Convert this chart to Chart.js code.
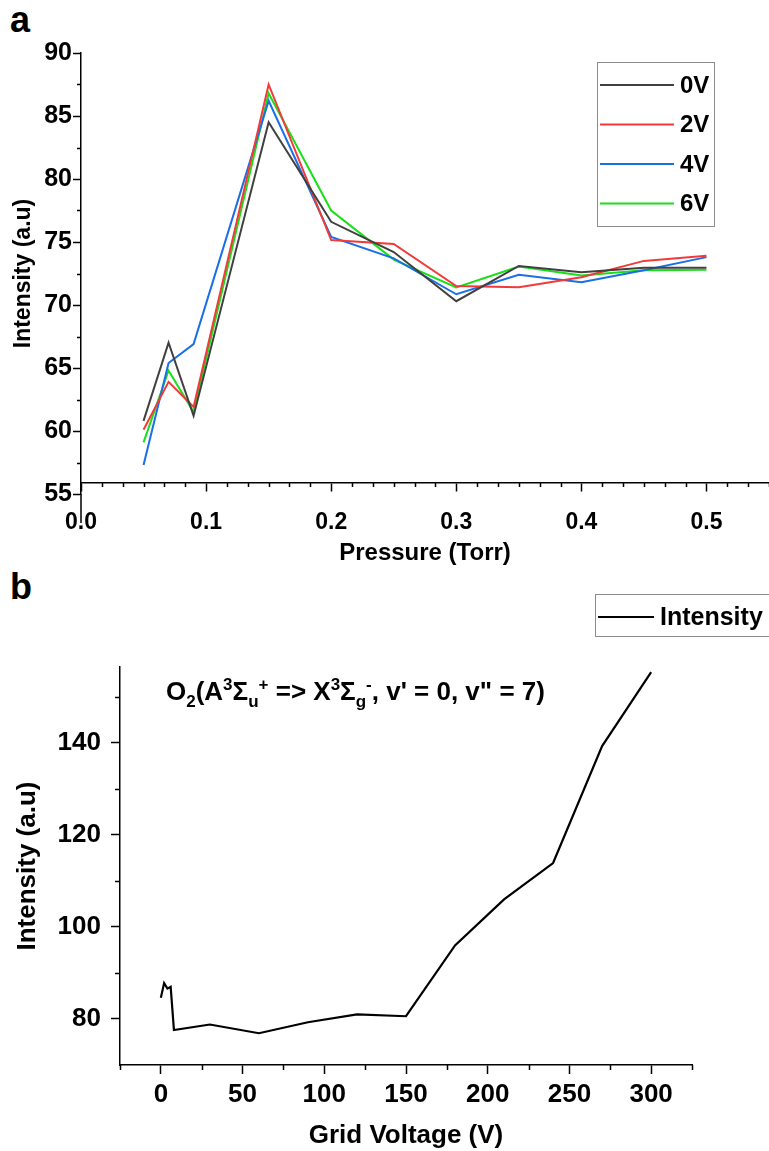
<!DOCTYPE html>
<html>
<head>
<meta charset="utf-8">
<script src="https://cdn.jsdelivr.net/npm/chart.js"></script>
<style>
  body { margin: 0; background: #fff; width: 769px; height: 1151px; position: relative; overflow: hidden;
         font-family: "Liberation Sans", Arial, Helvetica, sans-serif; }
  canvas { position: absolute; left: 0; }
  #chartA { top: 0; }
  #chartB { top: 570px; }
  .tag { position: absolute; left: 10px; font-weight: bold; font-size: 36px; line-height: 36px; }
</style>
</head>
<body>
<div class="tag" style="top:2px">a</div>
<div class="tag" style="top:569px">b</div>
<canvas id="chartA" width="769" height="570"></canvas>
<canvas id="chartB" width="769" height="581"></canvas>
<script>
  // panel a : intensity vs pressure for different grid voltages
  const pressure = [0.05, 0.07, 0.09, 0.15, 0.2, 0.25, 0.3, 0.35, 0.4, 0.45, 0.5];
  const int0V = [60.8, 67.0, 61.2, 84.5, 76.6, 74.2, 70.3, 73.1, 72.6, 72.95, 72.95];
  const int2V = [60.1, 63.9, 61.9, 87.5, 75.15, 74.85, 71.5, 71.4, 72.2, 73.5, 73.9];
  const int4V = [57.3, 65.4, 66.9, 86.2, 75.4, 73.7, 70.85, 72.4, 71.8, 72.75, 73.8];
  const int6V = [59.1, 64.8, 61.5, 86.8, 77.5, 73.6, 71.4, 73.05, 72.35, 72.75, 72.8];
  const voltLabels = ['0V', '2V', '4V', '6V'];
  const pressureTicks = [0, 0.1, 0.2, 0.3, 0.4, 0.5];
  const intensityTicksA = [55, 60, 65, 70, 75, 80, 85, 90];

  // panel b : intensity vs grid voltage
  const gridVoltage = [0, 2, 4, 6, 8, 30, 60, 90, 120, 150, 180, 210, 240, 270, 300];
  const intensityB = [84.6, 87.8, 86.6, 87.0, 77.6, 78.8, 76.9, 79.3, 81.0, 80.6, 96.0, 106.0, 113.9, 139.3, 155.4];
  const voltageTicks = [0, 50, 100, 150, 200, 250, 300];
  const intensityTicksB = [80, 100, 120, 140];

  const FONT = '"Liberation Sans", Arial, Helvetica, sans-serif';
  Chart.defaults.font.family = FONT;
  Chart.defaults.font.weight = 'bold';
  Chart.defaults.color = '#000';

  function range(a, b, step) {
    const out = [];
    for (let i = 0; a + i * step <= b + 1e-9; i++) out.push(+(a + i * step).toFixed(6));
    return out;
  }

  // minor ticks, boxed legend and rich text title
  const extras = {
    id: 'extras',
    afterDraw(chart, args, o) {
      const ctx = chart.ctx, xs = chart.scales.x, ys = chart.scales.y, area = chart.chartArea;
      const xLine = o.xAt != null ? ys.getPixelForValue(o.xAt) : area.bottom;
      ctx.save();
      ctx.strokeStyle = '#000';
      ctx.lineWidth = 1.5;
      ctx.beginPath();
      o.xMinor.forEach(v => {
        const p = Math.round(xs.getPixelForValue(v)) + 0.5;
        ctx.moveTo(p, xLine); ctx.lineTo(p, xLine + o.minorLen);
      });
      o.yMinor.forEach(v => {
        const p = Math.round(ys.getPixelForValue(v)) + 0.5;
        ctx.moveTo(area.left, p); ctx.lineTo(area.left - o.minorLen, p);
      });
      if (o.overhang) {
        ctx.moveTo(area.left, area.bottom); ctx.lineTo(area.left, area.bottom + o.overhang);
      }
      ctx.stroke();

      // legend box
      const L = o.legend;
      ctx.strokeStyle = '#8c8c8c';
      ctx.lineWidth = 1;
      ctx.strokeRect(L.x + 0.5, L.y + 0.5, L.w, L.h);
      ctx.font = 'bold ' + L.size + 'px ' + FONT;
      ctx.textBaseline = 'middle';
      ctx.textAlign = 'left';
      chart.data.datasets.forEach((ds, i) => {
        const yy = L.row0 + i * L.rowH;
        ctx.strokeStyle = ds.borderColor;
        ctx.lineWidth = 2;
        ctx.beginPath();
        ctx.moveTo(L.x + 3, yy); ctx.lineTo(L.x + 3 + L.lineLen, yy);
        ctx.stroke();
        ctx.fillStyle = '#000';
        ctx.fillText(ds.label, L.x + 9 + L.lineLen, yy + 1);
      });

      if (o.note) {
        let x = o.note.x;
        const base = o.note.y;
        ctx.textBaseline = 'alphabetic';
        o.note.parts.forEach(p => {
          const small = p.sub || p.sup;
          ctx.font = 'bold ' + (small ? o.note.small : o.note.size) + 'px ' + FONT;
          const dy = p.sub ? 7 : (p.sup ? -10 : 0);
          ctx.fillText(p.t, x, base + dy);
          x += ctx.measureText(p.t).width;
        });
      }
      ctx.restore();
    }
  };

  const tickFont = size => ({ size: size, weight: 'bold', family: FONT });

  new Chart(document.getElementById('chartA'), {
    type: 'line',
    data: {
      labels: pressure,
      datasets: [
        { label: voltLabels[0], data: int0V, borderColor: '#404040' },
        { label: voltLabels[1], data: int2V, borderColor: '#f23a3a' },
        { label: voltLabels[2], data: int4V, borderColor: '#1a6ee6' },
        { label: voltLabels[3], data: int6V, borderColor: '#17e017' }
      ].map(d => Object.assign(d, { borderWidth: 2, pointRadius: 0, tension: 0, fill: false }))
    },
    options: {
      responsive: false,
      animation: false,
      devicePixelRatio: 1,
      layout: { padding: { top: 53, right: 0, bottom: 76, left: 0 } },
      plugins: {
        legend: { display: false },
        tooltip: { enabled: false },
        extras: {
          xAt: 55.87, minorLen: 4, overhang: 29,
          xMinor: range(0, 0.55, 0.1 / 6).filter(v => Math.abs(v * 10 - Math.round(v * 10)) > 1e-6),
          yMinor: range(57.5, 87.5, 5),
          legend: { x: 597, y: 62, w: 117, h: 164, row0: 85, rowH: 39.5, lineLen: 74, size: 24 }
        }
      },
      scales: {
        x: {
          type: 'linear', min: 0, max: 0.55,
          position: { y: 55.87 },
          afterBuildTicks: s => { s.ticks = pressureTicks.map(v => ({ value: v })); },
          afterFit: s => { s.height = 85; },
          grid: { drawOnChartArea: false, tickLength: 8, tickWidth: 1.5, tickColor: '#000' },
          border: { color: '#000', width: 1.5 },
          ticks: { font: tickFont(23), padding: 18, maxRotation: 0, callback: v => v.toFixed(1) },
          title: { display: true, text: 'Pressure (Torr)', font: tickFont(24), padding: 0 }
        },
        y: {
          min: 55, max: 90,
          afterBuildTicks: s => { s.ticks = intensityTicksA.map(v => ({ value: v })); },
          afterFit: s => { s.width = 81; },
          grid: { drawOnChartArea: false, tickLength: 8, tickWidth: 1.5, tickColor: '#000' },
          border: { color: '#000', width: 1.5 },
          ticks: { font: tickFont(25), padding: 1 },
          title: { display: true, text: 'Intensity (a.u)', font: tickFont(23), padding: { top: 10, bottom: 0 } }
        }
      }
    },
    plugins: [extras]
  });

  new Chart(document.getElementById('chartB'), {
    type: 'line',
    data: {
      labels: gridVoltage,
      datasets: [
        { label: 'Intensity', data: intensityB, borderColor: '#000', borderWidth: 2.2, pointRadius: 0, tension: 0, fill: false }
      ]
    },
    options: {
      responsive: false,
      animation: false,
      devicePixelRatio: 1,
      layout: { padding: { top: 97, right: 77, bottom: 0, left: 0 } },
      plugins: {
        legend: { display: false },
        tooltip: { enabled: false },
        extras: {
          minorLen: 5,
          xMinor: range(-25, 325, 50),
          yMinor: range(90, 150, 20),
          legend: { x: 595, y: 24, w: 190, h: 42, row0: 47, rowH: 40, lineLen: 56, size: 25 },
          note: {
            x: 166, y: 130, size: 26, small: 17,
            parts: [
              { t: 'O' }, { t: '2', sub: true }, { t: '(A' }, { t: '3', sup: true }, { t: 'Σ' },
              { t: 'u', sub: true }, { t: '+', sup: true }, { t: ' => X' }, { t: '3', sup: true }, { t: 'Σ' },
              { t: 'g', sub: true }, { t: '-', sup: true }, { t: ', v\' = 0, v" = 7)' }
            ]
          }
        }
      },
      scales: {
        x: {
          type: 'linear', min: -25, max: 325,
          afterBuildTicks: s => { s.ticks = voltageTicks.map(v => ({ value: v })); },
          afterFit: s => { s.height = 86; },
          grid: { drawOnChartArea: false, tickLength: 9, tickWidth: 1.5, tickColor: '#000' },
          border: { color: '#000', width: 1.5 },
          ticks: { font: tickFont(26), padding: 5, maxRotation: 0 },
          title: { display: true, text: 'Grid Voltage (V)', font: tickFont(26), padding: 0 }
        },
        y: {
          min: 70, max: 156.5,
          afterBuildTicks: s => { s.ticks = intensityTicksB.map(v => ({ value: v })); },
          afterFit: s => { s.width = 120; },
          grid: { drawOnChartArea: false, tickLength: 9, tickWidth: 1.5, tickColor: '#000' },
          border: { color: '#000', width: 1.5 },
          ticks: { font: tickFont(26), padding: 10 },
          title: { display: true, text: 'Intensity (a.u)', font: tickFont(26), padding: { top: 12, bottom: 0 } }
        }
      }
    },
    plugins: [extras]
  });
</script>
</body>
</html>
